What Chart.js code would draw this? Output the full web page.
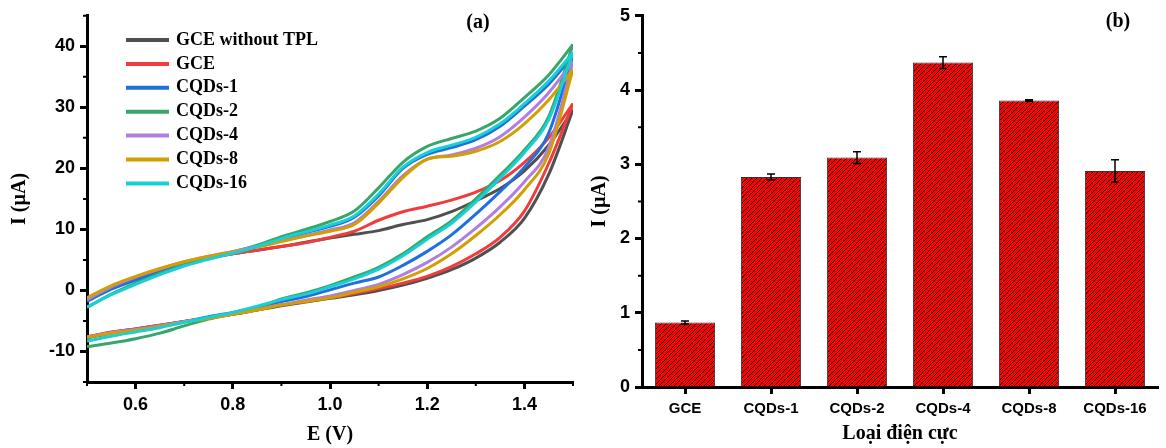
<!DOCTYPE html>
<html>
<head>
<meta charset="utf-8">
<script src="https://cdn.jsdelivr.net/npm/chart.js@4.4.0/dist/chart.umd.min.js"></script>
<style>
html, body { margin: 0; padding: 0; background: #fff; }
#cvA { position: absolute; left: 0; top: 0; }
#cvB { position: absolute; left: 585px; top: 0; }
</style>
</head>
<body>
<canvas id="cvA" width="585" height="448"></canvas>
<canvas id="cvB" width="581" height="448"></canvas>
<script>
// ---- panel (a): cyclic voltammograms ----
var potential = [0.50, 0.55, 0.60, 0.65, 0.70, 0.75, 0.80, 0.85, 0.90, 0.95, 1.00,
                 1.05, 1.10, 1.15, 1.20, 1.25, 1.30, 1.35, 1.40, 1.45, 1.50];

// forward (upper) scans
var gceBareFwd = [-1.6, 0.4, 1.9, 3.2, 4.4, 5.3, 6.0, 6.6, 7.2, 7.9, 8.6, 9.2, 9.8, 10.8, 11.6, 12.9, 14.7, 16.7, 19.6, 23.8, 29.6];
var gceFwd     = [-1.6, 0.4, 1.9, 3.2, 4.4, 5.3, 6.0, 6.6, 7.2, 7.8, 8.7, 9.7, 11.5, 12.9, 13.8, 14.8, 16.1, 18.0, 21.0, 25.0, 30.6];
var cqd1Fwd    = [-1.8, 0.2, 1.7, 3.0, 4.3, 5.3, 6.2, 7.2, 8.4, 9.5, 10.5, 12.0, 15.5, 20.0, 22.3, 23.4, 24.7, 26.9, 30.2, 33.8, 38.5];
var cqd2Fwd    = [-2.8, -0.6, 1.2, 2.8, 4.2, 5.3, 6.3, 7.4, 8.8, 10.0, 11.3, 13.0, 16.8, 21.0, 23.6, 24.9, 26.1, 28.2, 31.6, 35.3, 40.3];
var cqd4Fwd    = [-1.5, 0.6, 2.2, 3.5, 4.7, 5.6, 6.4, 7.2, 8.1, 9.0, 9.9, 11.1, 14.6, 18.8, 21.5, 22.2, 23.3, 25.2, 28.4, 32.4, 37.5];
var cqd8Fwd    = [-1.2, 0.8, 2.3, 3.6, 4.7, 5.6, 6.3, 7.1, 8.0, 8.9, 9.7, 10.8, 14.3, 18.5, 21.5, 22.0, 22.8, 24.4, 27.3, 31.2, 36.2];
var cqd16Fwd   = [-2.7, -0.7, 1.0, 2.6, 4.0, 5.1, 6.1, 7.2, 8.5, 9.6, 10.7, 12.2, 15.8, 20.2, 22.6, 23.8, 25.1, 27.3, 30.6, 34.3, 39.0];

// reverse (lower) scans, listed from low to high potential
var gceBareRev = [-7.6, -6.9, -6.3, -5.7, -5.1, -4.5, -3.9, -3.2, -2.5, -1.9, -1.3, -0.7, 0.0, 0.9, 2.0, 3.4, 5.3, 7.9, 11.8, 19.0, 29.6];
var gceRev     = [-7.6, -6.8, -6.3, -5.7, -5.1, -4.5, -3.9, -3.2, -2.4, -1.8, -1.2, -0.5, 0.3, 1.2, 2.3, 3.9, 6.0, 8.7, 13.0, 20.8, 30.6];
var cqd1Rev    = [-7.8, -7.0, -6.4, -5.8, -5.1, -4.3, -3.6, -2.8, -1.8, -1.0, 0.1, 1.2, 2.2, 4.1, 6.4, 9.1, 12.5, 16.2, 20.2, 25.8, 38.5];
var cqd2Rev    = [-9.2, -8.6, -7.9, -7.0, -5.8, -4.7, -3.8, -2.9, -1.4, -0.4, 0.8, 2.2, 3.8, 6.0, 8.8, 11.4, 15.0, 18.9, 23.0, 28.5, 40.3];
var cqd4Rev    = [-7.6, -6.9, -6.4, -5.8, -5.1, -4.5, -3.8, -3.1, -2.3, -1.6, -0.9, 0.0, 1.0, 2.6, 4.6, 7.1, 10.2, 13.7, 17.8, 23.4, 37.5];
var cqd8Rev    = [-7.7, -7.0, -6.5, -5.9, -5.2, -4.6, -3.9, -3.2, -2.4, -1.8, -1.2, -0.3, 0.6, 1.9, 3.6, 6.0, 9.0, 12.4, 16.5, 22.4, 36.2];
var cqd16Rev   = [-8.3, -7.5, -6.8, -6.1, -5.2, -4.4, -3.6, -2.6, -1.5, -0.6, 0.6, 1.9, 3.5, 5.7, 8.4, 11.0, 14.5, 18.4, 22.6, 28.0, 39.0];

var seriesNames = ['GCE without TPL', 'GCE', 'CQDs-1', 'CQDs-2', 'CQDs-4', 'CQDs-8', 'CQDs-16'];
var fwdScans = [gceBareFwd, gceFwd, cqd1Fwd, cqd2Fwd, cqd4Fwd, cqd8Fwd, cqd16Fwd];
var revScans = [gceBareRev, gceRev, cqd1Rev, cqd2Rev, cqd4Rev, cqd8Rev, cqd16Rev];

var xTicksA = [0.6, 0.8, 1.0, 1.2, 1.4];
var xMinorA = [0.5, 0.7, 0.9, 1.1, 1.3, 1.5];
var yTicksA = [-10, 0, 10, 20, 30, 40];
var yMinorA = [-15, -5, 5, 15, 25, 35, 45];

// ---- panel (b): bar chart ----
var electrodes = ['GCE', 'CQDs-1', 'CQDs-2', 'CQDs-4', 'CQDs-8', 'CQDs-16'];
var currents = [0.87, 2.83, 3.09, 4.37, 3.86, 2.91];
var currentErr = [0.02, 0.04, 0.08, 0.08, 0.01, 0.15];
var yTicksB = [0, 1, 2, 3, 4, 5];
var yMinorB = [0.5, 1.5, 2.5, 3.5, 4.5];

var lineColors = ['#505050', '#f03c3c', '#1f6fdc', '#38a66a', '#b07ee0', '#d19f00', '#18d0d4'];

var tickFont = { family: '"Liberation Sans", Arial, sans-serif', weight: 'bold', size: 18 };
var titleFont = { family: '"Liberation Serif", "Times New Roman", serif', weight: 'bold', size: 20, lineHeight: 1.2 };

function pts(ys) {
	var out = [];
	for (var i = 0; i < potential.length; i++) out.push({ x: potential[i], y: ys[i] });
	return out;
}

var minorTicks = {
	id: 'minorTicks',
	afterDraw: function(chart, args, opts) {
		var ctx = chart.ctx, area = chart.chartArea;
		ctx.save();
		ctx.strokeStyle = '#000';
		ctx.lineWidth = 2;
		ctx.beginPath();
		(opts.x || []).forEach(function(v) {
			var px = chart.scales.x.getPixelForValue(v);
			ctx.moveTo(px, area.bottom); ctx.lineTo(px, area.bottom + 4);
		});
		(opts.y || []).forEach(function(v) {
			var py = chart.scales.y.getPixelForValue(v);
			ctx.moveTo(area.left, py); ctx.lineTo(area.left - 4, py);
		});
		ctx.stroke();
		ctx.restore();
	}
};

var panelText = {
	id: 'panelText',
	afterDraw: function(chart, args, opts) {
		var ctx = chart.ctx;
		ctx.save();
		ctx.fillStyle = '#000';
		ctx.textAlign = 'center';
		ctx.textBaseline = 'middle';
		ctx.font = 'bold 20px "Liberation Serif"';
		ctx.fillText(opts.text, opts.x, opts.y);
		ctx.restore();
	}
};

var legendA = {
	id: 'legendA',
	afterDraw: function(chart) {
		var ctx = chart.ctx;
		ctx.save();
		ctx.font = 'bold 18px "Liberation Serif"';
		ctx.textBaseline = 'middle';
		ctx.textAlign = 'left';
		seriesNames.forEach(function(name, i) {
			var y = 40 + i * 23.9;
			ctx.strokeStyle = lineColors[i];
			ctx.lineWidth = 4;
			ctx.beginPath(); ctx.moveTo(126, y); ctx.lineTo(169, y); ctx.stroke();
			ctx.fillStyle = '#000';
			ctx.fillText(name, 176, y);
		});
		ctx.restore();
	}
};

var cvSets = [];
seriesNames.forEach(function(name, i) {
	[fwdScans[i], revScans[i]].forEach(function(scan) {
		cvSets.push({
			label: name,
			data: pts(scan),
			showLine: true,
			borderColor: lineColors[i],
			borderWidth: 3,
			pointRadius: 0,
			cubicInterpolationMode: 'monotone',
			order: seriesNames.length - i
		});
	});
});

function axisOpts(extra) {
	var o = {
		grid: { display: true, drawOnChartArea: false, drawTicks: true, tickLength: 7, tickWidth: 3, tickColor: '#000' },
		border: { display: true, width: 3, color: '#000' },
		ticks: { color: '#000', font: tickFont, padding: 5 },
		title: { display: true, color: '#000', font: titleFont }
	};
	for (var k in extra) o[k] = Object.assign(o[k] || {}, extra[k]);
	return o;
}

new Chart(document.getElementById('cvA'), {
	type: 'scatter',
	data: { datasets: cvSets },
	options: {
		responsive: false,
		animation: false,
		layout: { padding: { left: 0, right: 12, top: 6, bottom: 0 } },
		plugins: {
			legend: { display: false },
			tooltip: { enabled: false },
			minorTicks: { x: xMinorA, y: yMinorA },
			panelText: { text: '(a)', x: 478, y: 23 }
		},
		scales: {
			x: Object.assign(axisOpts({
				title: { text: 'E (V)', padding: { bottom: 1 } },
				ticks: { callback: function(v) { return v.toFixed(1); } }
			}), {
				type: 'linear', min: 0.5, max: 1.5,
				afterBuildTicks: function(s) { s.ticks = xTicksA.map(function(v) { return { value: v }; }); },
				afterFit: function(s) { s.height = 66; }
			}),
			y: Object.assign(axisOpts({
				title: { text: 'I (\u00b5A)', padding: { top: 8 } }
			}), {
				min: -15, max: 45,
				afterBuildTicks: function(s) { s.ticks = yTicksA.map(function(v) { return { value: v }; }); },
				afterFit: function(s) { s.width = 87; }
			})
		}
	},
	plugins: [minorTicks, panelText, legendA]
});

// hatched red fill for the bars: one crisp dark diagonal pixel line per 5px
function hatch() {
	var n = 5;
	var c = document.createElement('canvas');
	c.width = n; c.height = n;
	var g = c.getContext('2d');
	var img = g.createImageData(n, n);
	for (var yy = 0; yy < n; yy++) {
		for (var xx = 0; xx < n; xx++) {
			var k = (yy * n + xx) * 4;
			var dark = (xx + yy) % n === n - 1;
			img.data[k] = dark ? 0 : 255;
			img.data[k + 1] = 0;
			img.data[k + 2] = 0;
			img.data[k + 3] = 255;
		}
	}
	g.putImageData(img, 0, 0);
	return g.createPattern(c, 'repeat');
}

var errorBars = {
	id: 'errorBars',
	afterDatasetsDraw: function(chart) {
		var ctx = chart.ctx, ys = chart.scales.y;
		var meta = chart.getDatasetMeta(0);
		ctx.save();
		ctx.strokeStyle = '#000';
		ctx.lineWidth = 1.5;
		meta.data.forEach(function(bar, i) {
			var t = ys.getPixelForValue(currents[i] + currentErr[i]);
			var b = ys.getPixelForValue(currents[i] - currentErr[i]);
			ctx.beginPath();
			ctx.moveTo(bar.x, t); ctx.lineTo(bar.x, b);
			ctx.moveTo(bar.x - 4, t); ctx.lineTo(bar.x + 4, t);
			ctx.moveTo(bar.x - 4, b); ctx.lineTo(bar.x + 4, b);
			ctx.stroke();
		});
		ctx.restore();
	}
};

new Chart(document.getElementById('cvB'), {
	type: 'bar',
	data: {
		labels: electrodes,
		datasets: [{
			label: 'I',
			data: currents,
			backgroundColor: hatch(),
			borderColor: '#333',
			borderWidth: 1,
			barPercentage: 0.7,
			categoryPercentage: 1.0
		}]
	},
	options: {
		responsive: false,
		animation: false,
		layout: { padding: { left: 0, right: 8, top: 13, bottom: 0 } },
		plugins: {
			legend: { display: false },
			tooltip: { enabled: false },
			minorTicks: { y: yMinorB },
			panelText: { text: '(b)', x: 533, y: 22 }
		},
		scales: {
			x: Object.assign(axisOpts({
				title: { text: 'Lo\u1ea1i \u0111i\u1ec7n c\u1ef1c', padding: { bottom: 2 } },
				ticks: { font: { family: '"Liberation Sans", Arial, sans-serif', weight: 'bold', size: 15 }, padding: 6, maxRotation: 0 },
				grid: { offset: false }
			}), {
				afterFit: function(s) { s.height = 61; }
			}),
			y: Object.assign(axisOpts({
				title: { text: 'I (\u00b5A)', padding: { top: 3 } }
			}), {
				min: 0, max: 5,
				afterBuildTicks: function(s) { s.ticks = yTicksB.map(function(v) { return { value: v }; }); },
				afterFit: function(s) { s.width = 57; }
			})
		}
	},
	plugins: [minorTicks, panelText, errorBars]
});
</script>
</body>
</html>
